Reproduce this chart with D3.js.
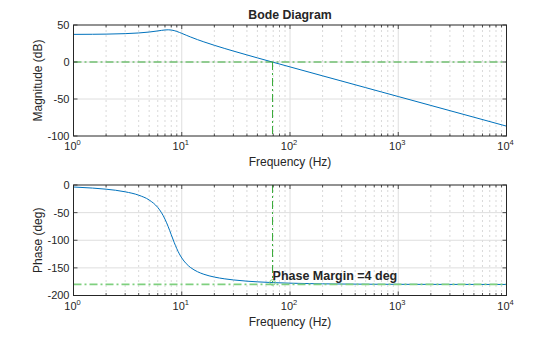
<!DOCTYPE html>
<html>
<head>
<meta charset="utf-8">
<script src="https://cdn.jsdelivr.net/npm/d3@7"></script>
<style>
  html, body { margin: 0; padding: 0; background: #fff; }
  svg { display: block; font-family: "Liberation Sans", Arial, Helvetica, sans-serif; }
</style>
</head>
<body>
<svg id="chart" width="560" height="337"></svg>
<script>
// ---- data ----
const freq = [1, 1.5, 2, 3, 4, 5, 6, 6.5, 7, 7.5, 8, 8.5, 9, 9.5, 10, 11, 12, 14, 16, 20, 25, 30, 40, 50, 70, 100, 150, 200, 300, 500, 700, 1000, 2000, 5000, 10000];
const magnitude = [37.32, 37.47, 37.68, 38.31, 39.24, 40.49, 41.99, 42.72, 43.29, 43.50, 43.22, 42.45, 41.32, 40.03, 38.71, 36.18, 33.93, 30.19, 27.20, 22.56, 18.21, 14.79, 9.55, 5.56, -0.38, -6.63, -13.70, -18.71, -25.76, -34.63, -40.48, -46.68, -58.72, -74.64, -86.68];
const phase = [-3.63, -5.55, -7.59, -12.31, -18.43, -27.15, -40.60, -50.09, -61.82, -75.52, -90.00, -103.64, -115.28, -124.64, -131.99, -142.33, -149.04, -157.01, -161.57, -166.61, -169.89, -171.83, -174.05, -175.31, -176.69, -177.69, -178.47, -178.85, -179.24, -179.54, -179.67, -179.77, -179.89, -179.95, -179.98];
const decades = [1, 10, 100, 1000, 10000];
const decadeExp = ["0", "1", "2", "3", "4"];
const magTicks = [-100, -50, 0, 50];
const phaseTicks = [-200, -150, -100, -50, 0];
const crossoverFreq = 69;
const crossoverPhase = -176.4;
const phaseLine = -180;
const gainLine = 0;
const titleText = "Bode Diagram";
const xLabel = "Frequency (Hz)";
const magLabel = "Magnitude (dB)";
const phaseLabel = "Phase (deg)";
const pmText = "Phase Margin =4 deg";

// ---- layout ----
const svg = d3.select("#chart");
const L = 73.5, R = 506.5;
const x = d3.scaleLog().domain([1, 10000]).range([L, R]);
const yMag = d3.scaleLinear().domain([-100, 50]).range([136, 25]);
const yPh = d3.scaleLinear().domain([-200, 0]).range([295.5, 185]);

const axisColor = "#262626";
const blue = "#0072BD";
const green = "#33a833";
const lightGreen = "#7fd07f";

const minor = [];
decades.slice(0, -1).forEach(d => { for (let k = 2; k <= 9; k++) minor.push(d * k); });

function panel(y, ticks, values, label) {
  const [yb, yt] = y.range();
  const g = svg.append("g");
  g.append("rect").attr("x", L).attr("y", yt).attr("width", R - L).attr("height", yb - yt).attr("fill", "#fff");
  // minor grid
  g.selectAll(null).data(minor).join("line")
    .attr("x1", d => x(d)).attr("x2", d => x(d)).attr("y1", yt).attr("y2", yb)
    .attr("stroke", "#cfcfcf").attr("stroke-width", 0.8).attr("stroke-dasharray", "2,3");
  // major grid
  g.selectAll(null).data(decades.slice(1, -1)).join("line")
    .attr("x1", d => x(d)).attr("x2", d => x(d)).attr("y1", yt).attr("y2", yb)
    .attr("stroke", "#dedede").attr("stroke-width", 1);
  g.selectAll(null).data(ticks.slice(1, -1)).join("line")
    .attr("x1", L).attr("x2", R).attr("y1", d => y(d)).attr("y2", d => y(d))
    .attr("stroke", "#dedede").attr("stroke-width", 1);
  return g;
}

function frame(g, y, ticks, label, valsLine) {
  const [yb, yt] = y.range();
  // ticks inward
  const tk = [];
  decades.forEach(d => tk.push({ v: d, len: 4 }));
  minor.forEach(d => tk.push({ v: d, len: 2.5 }));
  g.selectAll(null).data(tk).join("line")
    .attr("x1", d => x(d.v)).attr("x2", d => x(d.v)).attr("y1", yb).attr("y2", d => yb - d.len)
    .attr("stroke", axisColor).attr("stroke-width", 0.8);
  g.selectAll(null).data(tk).join("line")
    .attr("x1", d => x(d.v)).attr("x2", d => x(d.v)).attr("y1", yt).attr("y2", d => yt + d.len)
    .attr("stroke", axisColor).attr("stroke-width", 0.8);
  g.selectAll(null).data(ticks).join("line")
    .attr("x1", L).attr("x2", L + 4).attr("y1", d => y(d)).attr("y2", d => y(d))
    .attr("stroke", axisColor).attr("stroke-width", 0.8);
  g.selectAll(null).data(ticks).join("line")
    .attr("x1", R).attr("x2", R - 4).attr("y1", d => y(d)).attr("y2", d => y(d))
    .attr("stroke", axisColor).attr("stroke-width", 0.8);
  // box
  g.append("rect").attr("x", L).attr("y", yt).attr("width", R - L).attr("height", yb - yt)
    .attr("fill", "none").attr("stroke", axisColor).attr("stroke-width", 1);
  // y tick labels
  g.selectAll(null).data(ticks).join("text")
    .attr("x", L - 4).attr("y", d => y(d)).attr("dy", "0.36em")
    .attr("text-anchor", "end").attr("font-size", 11).attr("fill", axisColor)
    .text(d => d);
  // x tick labels 10^n
  decades.forEach((d, i) => {
    const t = g.append("text").attr("x", x(d) - 1).attr("y", yb + 14)
      .attr("text-anchor", "middle").attr("font-size", 11).attr("fill", axisColor);
    t.append("tspan").text("10");
    t.append("tspan").attr("font-size", 7.5).attr("dy", -5).text(decadeExp[i]);
  });
  // x label
  g.append("text").attr("x", (L + R) / 2).attr("y", yb + 30)
    .attr("text-anchor", "middle").attr("font-size", 12).attr("fill", axisColor).text(xLabel);
  // y label
  g.append("text").attr("transform", `translate(42,${(yb + yt) / 2}) rotate(-90)`)
    .attr("text-anchor", "middle").attr("font-size", 12).attr("fill", axisColor).text(label);
}

const pts = freq.map((f, i) => ({ f, m: magnitude[i], p: phase[i] }));

// ---- magnitude panel ----
const gm = panel(yMag, magTicks);
gm.append("path").datum(pts)
  .attr("d", d3.line().x(d => x(d.f)).y(d => yMag(d.m)).curve(d3.curveMonotoneX))
  .attr("fill", "none").attr("stroke", blue).attr("stroke-width", 1);
gm.append("line").attr("x1", L).attr("x2", R).attr("y1", yMag(gainLine)).attr("y2", yMag(gainLine))
  .attr("stroke", green).attr("stroke-width", 1).attr("stroke-dasharray", "8,3,2,3");
gm.append("line").attr("x1", x(crossoverFreq)).attr("x2", x(crossoverFreq))
  .attr("y1", yMag(gainLine)).attr("y2", yMag(-100))
  .attr("stroke", green).attr("stroke-width", 1).attr("stroke-dasharray", "8,3,2,3");
frame(gm, yMag, magTicks, magLabel);

// ---- phase panel ----
const gp = panel(yPh, phaseTicks);
gp.append("path").datum(pts)
  .attr("d", d3.line().x(d => x(d.f)).y(d => yPh(d.p)).curve(d3.curveMonotoneX))
  .attr("fill", "none").attr("stroke", blue).attr("stroke-width", 1);
gp.append("line").attr("x1", L).attr("x2", R).attr("y1", yPh(phaseLine)).attr("y2", yPh(phaseLine))
  .attr("stroke", lightGreen).attr("stroke-width", 1.8).attr("stroke-dasharray", "8,3,2,3");
gp.append("line").attr("x1", x(crossoverFreq)).attr("x2", x(crossoverFreq))
  .attr("y1", yPh(0)).attr("y2", yPh(crossoverPhase))
  .attr("stroke", green).attr("stroke-width", 1).attr("stroke-dasharray", "8,3,2,3");
gp.append("circle").attr("cx", x(crossoverFreq)).attr("cy", yPh(crossoverPhase)).attr("r", 2.8)
  .attr("fill", "none").attr("stroke", lightGreen).attr("stroke-width", 1);
gp.append("text").attr("x", x(crossoverFreq)).attr("y", yPh(crossoverPhase) - 2.5)
  .attr("font-size", 12.5).attr("font-weight", "bold").attr("fill", axisColor).text(pmText);
frame(gp, yPh, phaseTicks, phaseLabel);

// ---- title ----
svg.append("text").attr("x", (L + R) / 2).attr("y", 18.5).attr("text-anchor", "middle")
  .attr("font-size", 12.3).attr("font-weight", "bold").attr("fill", axisColor).text(titleText);
</script>
</body>
</html>
